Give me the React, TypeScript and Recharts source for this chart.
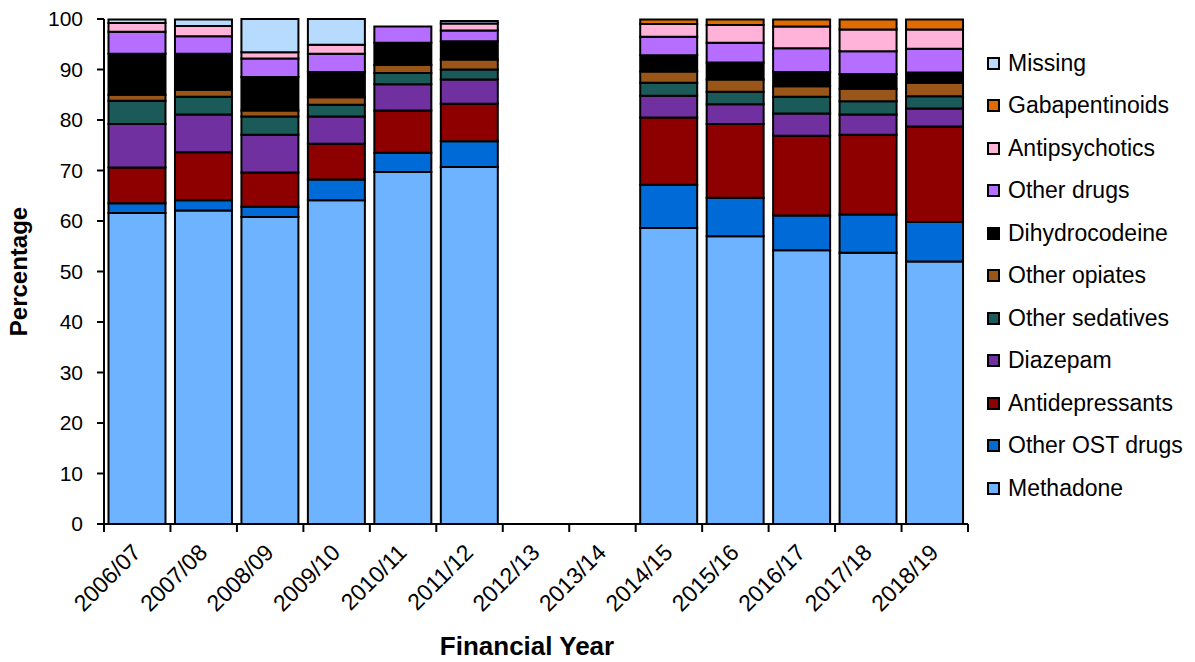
import { Bar, BarChart, Label, XAxis, YAxis } from "recharts";

const categories = [
  "2006/07", "2007/08", "2008/09", "2009/10", "2010/11", "2011/12", "2012/13",
  "2013/14", "2014/15", "2015/16", "2016/17", "2017/18", "2018/19",
];

// percentages per financial year, bottom of the stack first
const methadone = [61.6, 62.1, 60.8, 64.1, 69.7, 70.7, null, null, 58.6, 57.0, 54.2, 53.7, 52.0];
const otherOst = [1.9, 2.0, 2.0, 4.1, 3.8, 5.1, null, null, 8.6, 7.6, 6.9, 7.6, 7.8];
const antidepressants = [7.1, 9.5, 6.8, 7.1, 8.4, 7.4, null, null, 13.3, 14.6, 15.8, 15.8, 18.9];
const diazepam = [8.6, 7.5, 7.5, 5.4, 5.2, 4.8, null, null, 4.3, 3.9, 4.4, 4.0, 3.6];
const otherSedatives = [4.6, 3.5, 3.6, 2.3, 2.2, 2.0, null, null, 2.6, 2.5, 3.3, 2.6, 2.4];
const otherOpiates = [1.2, 1.4, 1.2, 1.5, 1.6, 2.0, null, null, 2.2, 2.4, 2.1, 2.5, 2.7];
const dihydrocodeine = [8.1, 7.1, 6.6, 5.0, 4.4, 3.6, null, null, 3.2, 3.4, 2.8, 2.9, 2.0];
const otherDrugs = [4.4, 3.5, 3.7, 3.6, 3.2, 2.1, null, null, 3.7, 3.9, 4.7, 4.5, 4.7];
const antipsychotics = [1.7, 2.0, 1.2, 1.8, 0, 1.4, null, null, 2.5, 3.5, 4.3, 4.3, 3.8];
const gabapentinoids = [0, 0, 0, 0, 0, 0, null, null, 0.9, 1.1, 1.4, 2.0, 2.0];
const missing = [0.7, 1.3, 6.6, 5.1, 0, 0.5, null, null, 0, 0, 0, 0, 0];

const yTicks = [0, 10, 20, 30, 40, 50, 60, 70, 80, 90, 100];

const series = [
  { key: "methadone", name: "Methadone", color: "#6DB3FF", values: methadone },
  { key: "otherOst", name: "Other OST drugs", color: "#006AD6", values: otherOst },
  { key: "antidepressants", name: "Antidepressants", color: "#8E0000", values: antidepressants },
  { key: "diazepam", name: "Diazepam", color: "#7030A0", values: diazepam },
  { key: "otherSedatives", name: "Other sedatives", color: "#1A5A58", values: otherSedatives },
  { key: "otherOpiates", name: "Other opiates", color: "#9A5518", values: otherOpiates },
  { key: "dihydrocodeine", name: "Dihydrocodeine", color: "#000000", values: dihydrocodeine },
  { key: "otherDrugs", name: "Other drugs", color: "#B56EFF", values: otherDrugs },
  { key: "antipsychotics", name: "Antipsychotics", color: "#FFB3D9", values: antipsychotics },
  { key: "gabapentinoids", name: "Gabapentinoids", color: "#E06C00", values: gabapentinoids },
  { key: "missing", name: "Missing", color: "#B6DBFF", values: missing },
];

const data = categories.map((year, i) => {
  const row: Record<string, string | number | null> = { year };
  series.forEach((s) => {
    row[s.key] = s.values[i];
  });
  return row;
});

const FONT = "'Liberation Sans', Arial, sans-serif";
const WIDTH = 1195;
const HEIGHT = 662;
const LEFT = 104;
const RIGHT = 227;
const HALF_BAND = (WIDTH - LEFT - RIGHT) / categories.length / 2;

const YearTick = (props: any) => {
  const { x, y, payload, index } = props;
  const last = index === categories.length - 1;
  return (
    <g>
      <line x1={x - HALF_BAND} x2={x - HALF_BAND} y1={y} y2={y + 8} stroke="#000" strokeWidth={2} />
      {last && (
        <line x1={x + HALF_BAND} x2={x + HALF_BAND} y1={y} y2={y + 8} stroke="#000" strokeWidth={2} />
      )}
      <text
        transform={`translate(${x + 5},${y + 30}) rotate(-45)`}
        textAnchor="end"
        fontSize={23}
        fontFamily={FONT}
        fill="#000"
      >
        {payload.value}
      </text>
    </g>
  );
};

// legend sits to the right of the plot, top entry = top of the stack
const LegendList = () => (
  <div
    style={{
      position: "absolute",
      left: 987,
      top: 42,
      width: 208,
      fontFamily: FONT,
      fontSize: 23,
      color: "#000",
    }}
  >
    {[...series].reverse().map((s) => (
      <div key={s.key} style={{ display: "flex", alignItems: "center", height: 42.5 }}>
        <span
          style={{
            display: "inline-block",
            width: 9,
            height: 9,
            background: s.color,
            border: "2px solid #000",
            marginRight: 8,
          }}
        />
        <span style={{ whiteSpace: "nowrap" }}>{s.name}</span>
      </div>
    ))}
  </div>
);

export default function App() {
  return (
    <div style={{ position: "absolute", left: 0, top: 0, width: WIDTH, height: HEIGHT, background: "#fff" }}>
      <BarChart
        width={WIDTH}
        height={HEIGHT}
        data={data}
        margin={{ top: 19, right: RIGHT, bottom: 0, left: 0 }}
        barCategoryGap={4.5}
      >
        <XAxis
          dataKey="year"
          height={138}
          tickLine={false}
          tickSize={0}
          tickMargin={0}
          axisLine={{ stroke: "#000", strokeWidth: 2 }}
          tick={<YearTick />}
          interval={0}
        >
          <Label
            value="Financial Year"
            position="insideBottom"
            offset={7}
            dx={-9}
            style={{ fontFamily: FONT, fontSize: 26, fontWeight: "bold", fill: "#000" }}
          />
        </XAxis>
        <YAxis
          width={LEFT}
          domain={[0, 100]}
          ticks={yTicks}
          interval={0}
          tickSize={7}
          tickMargin={14}
          axisLine={{ stroke: "#000", strokeWidth: 2 }}
          tickLine={{ stroke: "#000", strokeWidth: 2 }}
          tick={{ fontSize: 21, fontFamily: FONT, fill: "#000" }}
        >
          <Label
            value="Percentage"
            angle={-90}
            position="center"
            dx={-34}
            style={{ fontFamily: FONT, fontSize: 24, fontWeight: "bold", fill: "#000", textAnchor: "middle" }}
          />
        </YAxis>
        {series.map((s) => (
          <Bar
            key={s.key}
            dataKey={s.key}
            name={s.name}
            stackId="a"
            fill={s.color}
            stroke="#000"
            strokeWidth={2}
            isAnimationActive={false}
          />
        ))}
      </BarChart>
      <LegendList />
    </div>
  );
}
